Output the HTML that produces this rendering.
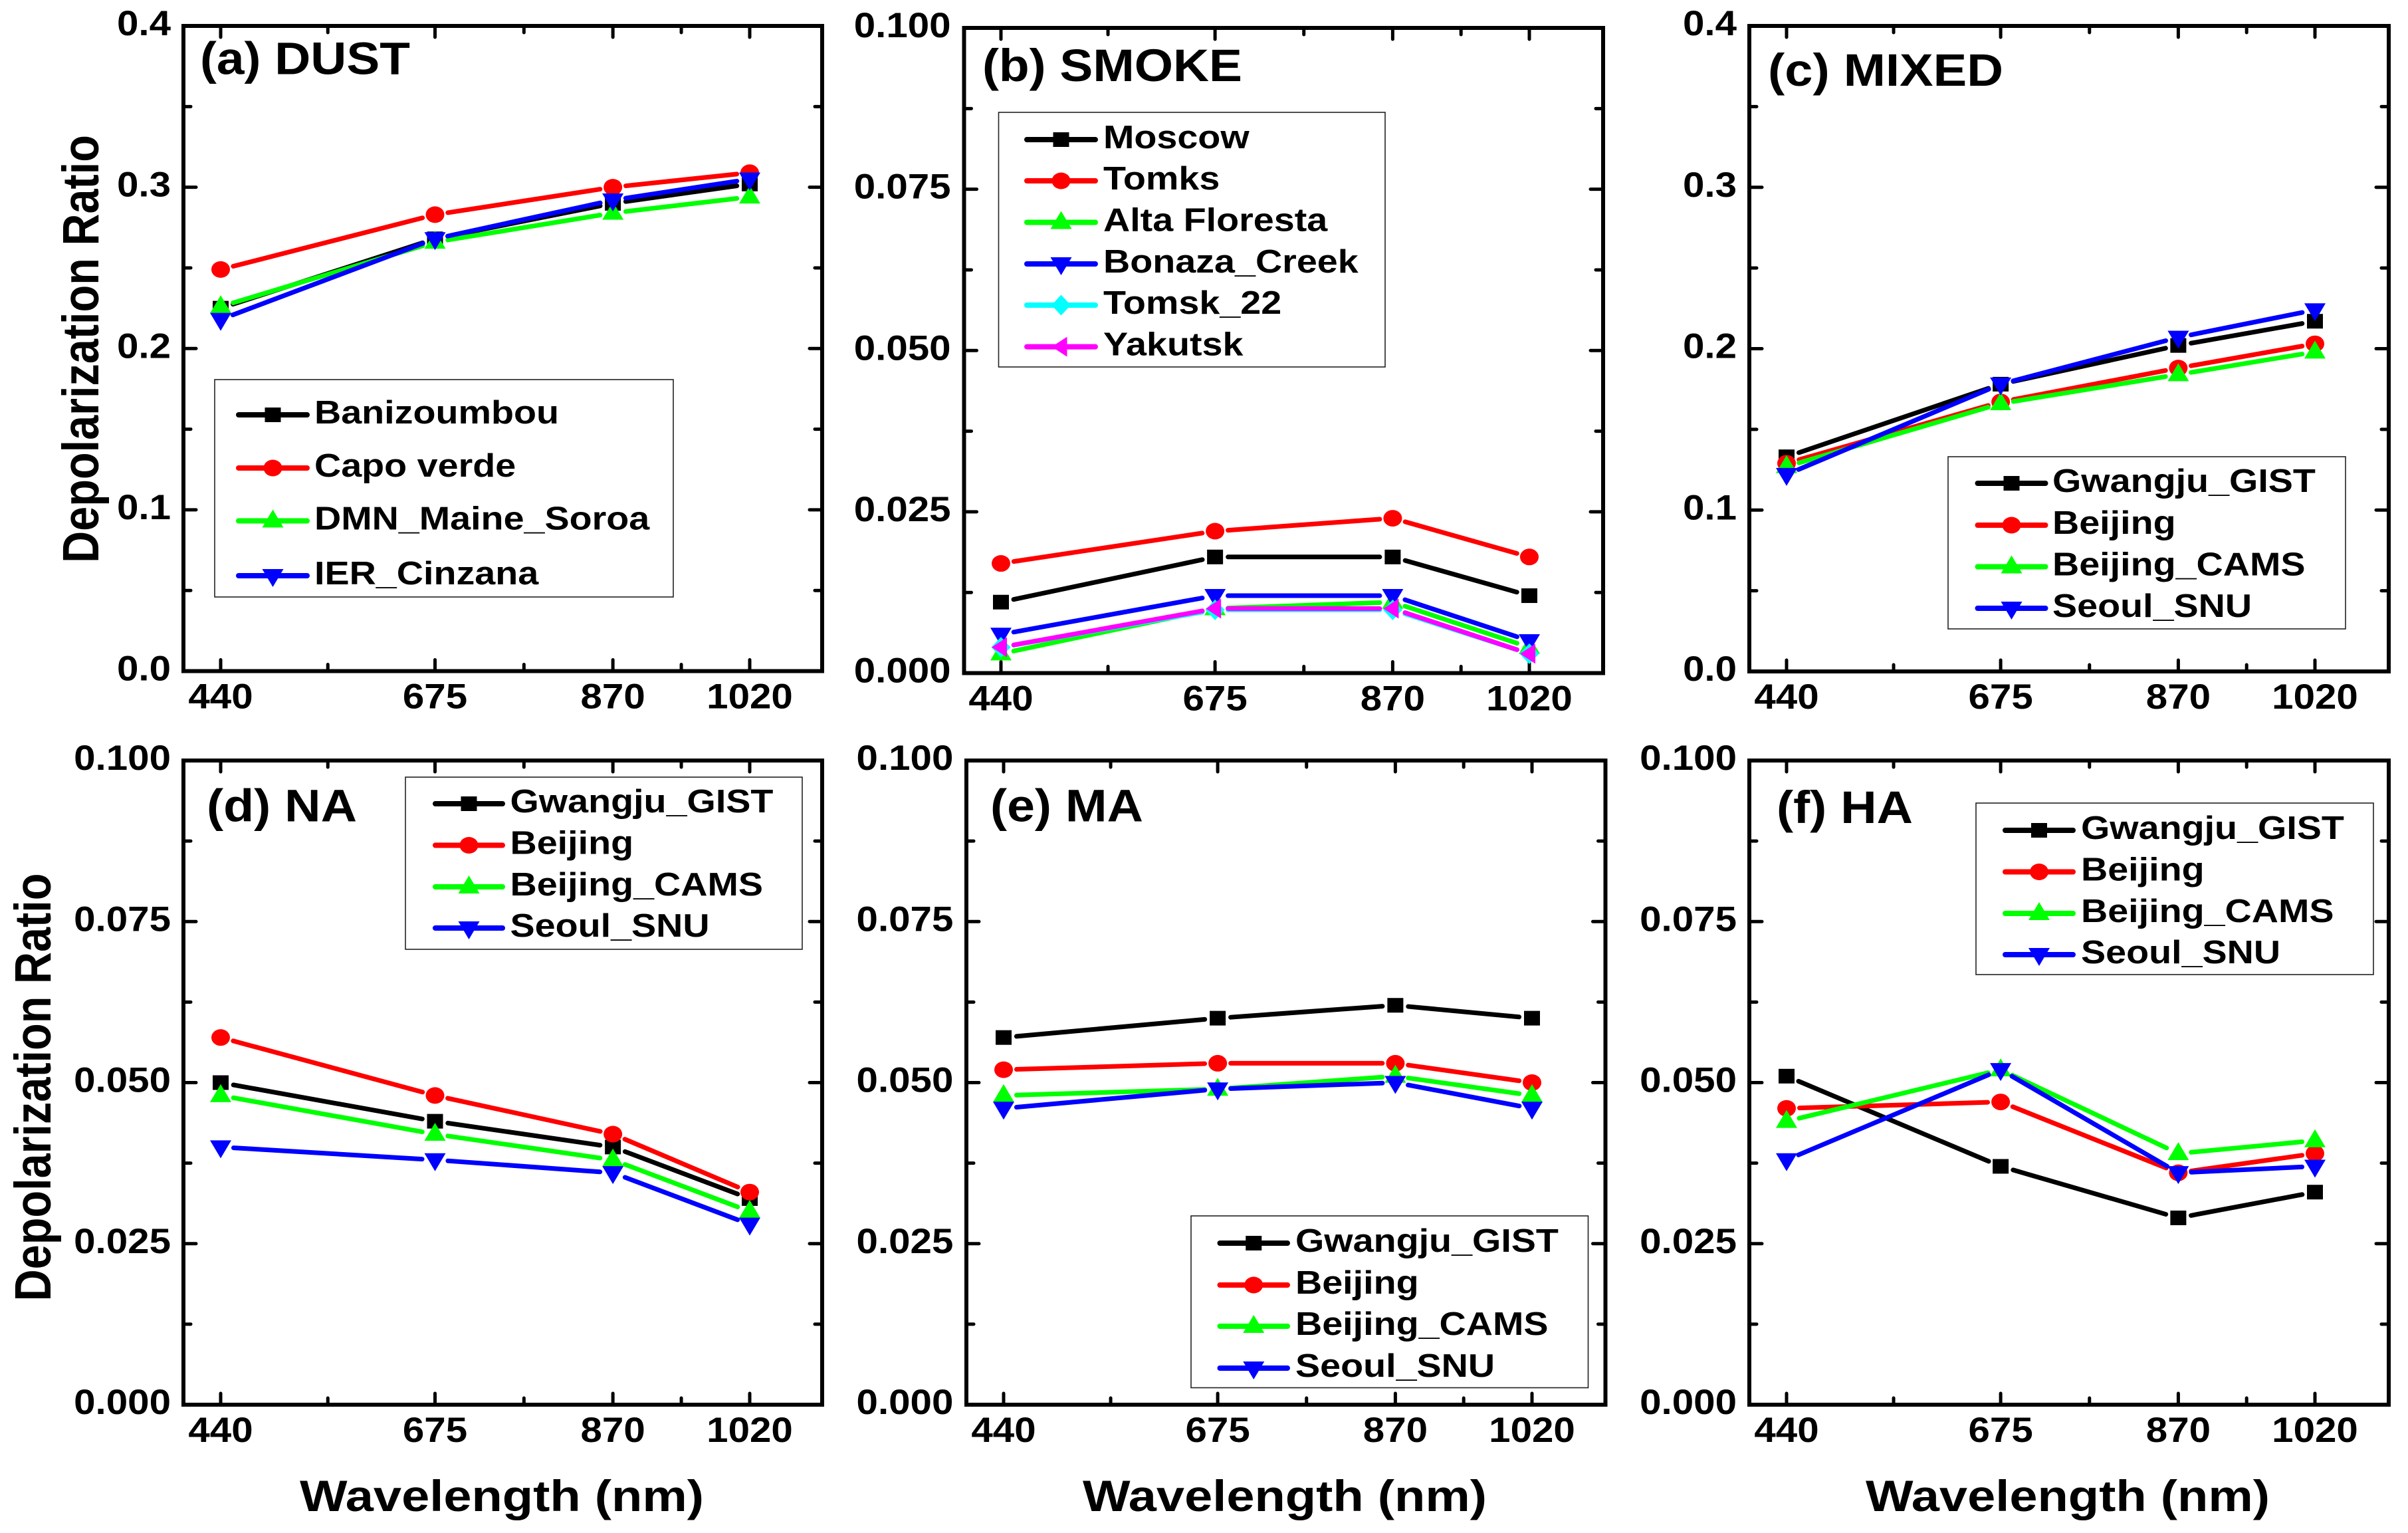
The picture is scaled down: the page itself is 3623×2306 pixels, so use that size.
<!DOCTYPE html>
<html lang="en">
<head>
<meta charset="utf-8">
<title>Depolarization Ratio by Wavelength</title>
<style>
html,body{margin:0;padding:0;background:#fff;}
svg{display:block;}
text{font-family:"Liberation Sans",sans-serif;font-weight:bold;fill:#000;}
</style>
</head>
<body>
<svg id="chart" xmlns="http://www.w3.org/2000/svg" width="3623" height="2306" viewBox="0 0 3623 2306"></svg>
<script>
const wavelengths = [440, 675, 870, 1020];
const coarseTickLabels = ['0.0', '0.1', '0.2', '0.3', '0.4'];
const fineTickLabels = ['0.000', '0.025', '0.050', '0.075', '0.100'];

const dustNames = ['Banizoumbou', 'Capo verde', 'DMN_Maine_Soroa', 'IER_Cinzana'];
const dustBanizoumbou = [0.225, 0.268, 0.290, 0.302];
const dustCapoVerde = [0.249, 0.283, 0.300, 0.309];
const dustMaineSoroa = [0.226, 0.266, 0.284, 0.294];
const dustCinzana = [0.218, 0.268, 0.292, 0.305];

const smokeNames = ['Moscow', 'Tomks', 'Alta Floresta', 'Bonaza_Creek', 'Tomsk_22', 'Yakutsk'];
const smokeMoscow = [0.011, 0.018, 0.018, 0.012];
const smokeTomks = [0.017, 0.022, 0.024, 0.018];
const smokeAlta = [0.003, 0.010, 0.011, 0.004];
const smokeBonaza = [0.006, 0.012, 0.012, 0.005];
const smokeTomsk22 = [0.004, 0.0098, 0.0098, 0.003];
const smokeYakutsk = [0.004, 0.010, 0.010, 0.003];

const siteNames = ['Gwangju_GIST', 'Beijing', 'Beijing_CAMS', 'Seoul_SNU'];

const mixedGist = [0.133, 0.178, 0.202, 0.217];
const mixedBeijing = [0.129, 0.167, 0.188, 0.203];
const mixedCams = [0.127, 0.166, 0.184, 0.198];
const mixedSeoul = [0.122, 0.178, 0.207, 0.224];

const naGist = [0.050, 0.044, 0.040, 0.032];
const naBeijing = [0.057, 0.048, 0.042, 0.033];
const naCams = [0.048, 0.042, 0.038, 0.030];
const naSeoul = [0.040, 0.038, 0.036, 0.028];

const maGist = [0.057, 0.060, 0.062, 0.060];
const maBeijing = [0.052, 0.053, 0.053, 0.050];
const maCams = [0.048, 0.049, 0.051, 0.048];
const maSeoul = [0.046, 0.049, 0.050, 0.046];

const haGist = [0.051, 0.037, 0.029, 0.033];
const haBeijing = [0.046, 0.047, 0.036, 0.039];
const haCams = [0.044, 0.052, 0.039, 0.041];
const haSeoul = [0.038, 0.052, 0.036, 0.037];

const seriesColors = ['#000000', '#ff0000', '#00ff00', '#0000ff', '#00ffff', '#ff00ff'];
const seriesMarkers = ['square', 'circle', 'up', 'down', 'diamond', 'left'];

const panels = [
  { key: 'dust', title: '(a) DUST', names: dustNames, series: [dustBanizoumbou, dustCapoVerde, dustMaineSoroa, dustCinzana],
    labels: coarseTickLabels, frame: [276, 1237, 39, 1009.5], tickX: [332, 1128], labelRight: 257, titlePos: [301, 111.5, 316],
    legendBox: [323, 1013, 571, 898], legendY: [624, 704, 783.5, 866], legendLine: [359, 462], legendText: 473, yTitleX: 148, yTitleY: 525, xTitle: null },
  { key: 'smoke', title: '(b) SMOKE', names: smokeNames, series: [smokeMoscow, smokeTomks, smokeAlta, smokeBonaza, smokeTomsk22, smokeYakutsk],
    labels: fineTickLabels, frame: [1450.5, 2412, 42, 1012.5], tickX: [1506, 2301], labelRight: 1430.6, titlePos: [1478, 122, 391],
    legendBox: [1502.5, 2084, 169, 552], legendY: [210, 272, 334.5, 397, 459, 521.6], legendLine: [1545, 1648], legendText: 1660, yTitleX: null, xTitle: null },
  { key: 'mixed', title: '(c) MIXED', names: siteNames, series: [mixedGist, mixedBeijing, mixedCams, mixedSeoul],
    labels: coarseTickLabels, frame: [2632, 3594, 39, 1010], tickX: [2688, 3483], labelRight: 2613, titlePos: [2660, 129, 354],
    legendBox: [2931, 3529, 687, 946], legendY: [727, 790, 852.5, 915], legendLine: [2975.5, 3077.5], legendText: 3088, yTitleX: null, xTitle: null },
  { key: 'na', title: '(d) NA', names: siteNames, series: [naGist, naBeijing, naCams, naSeoul],
    labels: fineTickLabels, frame: [276, 1237, 1144, 2113], tickX: [332, 1128], labelRight: 257, titlePos: [311, 1235.5, 226],
    legendBox: [610, 1207, 1169, 1428], legendY: [1209, 1271.5, 1334, 1396], legendLine: [655, 756], legendText: 767.5, yTitleX: 76, yTitleY: 1635.5, xTitle: [451, 608] },
  { key: 'ma', title: '(e) MA', names: siteNames, series: [maGist, maBeijing, maCams, maSeoul],
    labels: fineTickLabels, frame: [1454, 2415.5, 1144, 2113], tickX: [1510, 2305], labelRight: 1434.4, titlePos: [1490, 1235.5, 230],
    legendBox: [1792, 2389.5, 1829, 2087.5], legendY: [1870, 1933, 1995, 2058], legendLine: [1835.5, 1937], legendText: 1949, yTitleX: null, xTitle: [1629, 608] },
  { key: 'ha', title: '(f) HA', names: siteNames, series: [haGist, haBeijing, haCams, haSeoul],
    labels: fineTickLabels, frame: [2632, 3594, 1144, 2113], tickX: [2688, 3483], labelRight: 2613, titlePos: [2673, 1238, 205],
    legendBox: [2973, 3571, 1208, 1466], legendY: [1249, 1311.5, 1374, 1436], legendLine: [3017, 3119], legendText: 3131, yTitleX: null, xTitle: [2807, 608] }
];

const NS = 'http://www.w3.org/2000/svg';
const root = document.getElementById('chart');

function make(tag, parent, attrs) {
  const node = document.createElementNS(NS, tag);
  for (const k in attrs) node.setAttribute(k, attrs[k]);
  parent.appendChild(node);
  return node;
}

function addText(parent, str, x, y, size, scaleX, anchor) {
  const node = make('text', parent, {
    transform: 'translate(' + x + ',' + y + ') scale(' + scaleX + ',1)',
    'font-size': size,
    'text-anchor': anchor || 'start'
  });
  node.textContent = str;
  return node;
}

function addFittedText(parent, str, x, y, size, width) {
  const node = make('text', parent, {
    transform: 'translate(' + x + ',' + y + ')',
    'font-size': size,
    textLength: width,
    lengthAdjust: 'spacingAndGlyphs'
  });
  node.textContent = str;
  return node;
}

function addMarker(parent, shape, cx, cy, color) {
  let node;
  if (shape === 'square') {
    node = make('rect', parent, { x: cx - 12, y: cy - 11, width: 24, height: 22, fill: color });
  } else if (shape === 'circle') {
    node = make('ellipse', parent, { cx: cx, cy: cy, rx: 14, ry: 12.5, fill: color });
  } else {
    const shapes = {
      up: [[0, -17], [16, 10], [-16, 10]],
      down: [[0, 17], [16, -10], [-16, -10]],
      diamond: [[0, -15.5], [14.5, 0], [0, 15.5], [-14.5, 0]],
      left: [[-14, 0], [9, -15], [9, 15]]
    };
    const pts = shapes[shape].map(function (p) { return (cx + p[0]) + ',' + (cy + p[1]); }).join(' ');
    node = make('polygon', parent, { points: pts, fill: color });
  }
  return node;
}

function drawPanel(p) {
  const group = make('g', root, {});
  
  

  const left = p.frame[0], right = p.frame[1], top = p.frame[2], bottom = p.frame[3];
  const yMax = Number(p.labels[p.labels.length - 1]);
  const xFirst = wavelengths[0], xLast = wavelengths[wavelengths.length - 1];
  const xAxis = function (w) { return p.tickX[0] + (w - xFirst) / (xLast - xFirst) * (p.tickX[1] - p.tickX[0]); };
  const yAxis = function (v) { return bottom - v / yMax * (bottom - top); };

  const tickStyle = { stroke: '#000', 'stroke-width': 5, 'stroke-linecap': 'round' };
  function addTick(x1, y1, x2, y2, name) {
    const t = make('line', group, Object.assign({ x1: x1, y1: y1, x2: x2, y2: y2 }, tickStyle));
    
    
  }

  wavelengths.forEach(function (w, i) {
    const px = xAxis(w);
    addTick(px, bottom, px, bottom - 17, 'x-tick-' + w);
    addTick(px, top, px, top + 17, 'x-tick-top-' + w);
    const label = addText(group, String(w), px, bottom + 56, 53, 1.1, 'middle');
    
    
    if (i < wavelengths.length - 1) {
      const mid = xAxis((w + wavelengths[i + 1]) / 2);
      addTick(mid, bottom, mid, bottom - 10, 'x-minor-tick');
      addTick(mid, top, mid, top + 10, 'x-minor-tick-top');
    }
  });

  p.labels.forEach(function (lab, i) {
    const v = Number(lab);
    const py = yAxis(v);
    addTick(left, py, left + 19, py, 'y-tick-' + lab);
    addTick(right, py, right - 19, py, 'y-tick-right-' + lab);
    const label = addText(group, lab, p.labelRight, py + 14, 53, 1.1, 'end');
    
    
    if (i < p.labels.length - 1) {
      const midPy = yAxis((v + Number(p.labels[i + 1])) / 2);
      addTick(left, midPy, left + 11, midPy, 'y-minor-tick');
      addTick(right, midPy, right - 11, midPy, 'y-minor-tick-right');
    }
  });

  const frame = make('rect', group, { x: left, y: top, width: right - left, height: bottom - top, fill: 'none', stroke: '#000', 'stroke-width': 6 });
  
  

  p.series.forEach(function (values, s) {
    const color = seriesColors[s];
    const sg = make('g', group, {});
    
    
    values.forEach(function (v, i) {
      if (i === values.length - 1) return;
      const ax = xAxis(wavelengths[i]), ay = yAxis(v);
      const bx = xAxis(wavelengths[i + 1]), by = yAxis(values[i + 1]);
      const len = Math.hypot(bx - ax, by - ay);
      const ux = (bx - ax) / len, uy = (by - ay) / len;
      const seg = make('line', sg, {
        x1: ax + ux * 19.5, y1: ay + uy * 19.5, x2: bx - ux * 19.5, y2: by - uy * 19.5,
        stroke: color, 'stroke-width': 7, 'stroke-linecap': 'round'
      });
      
      
    });
    values.forEach(function (v, i) {
      const m = addMarker(sg, seriesMarkers[s], xAxis(wavelengths[i]), yAxis(v), color);
      
      
    });
  });

  const title = addFittedText(group, p.title, p.titlePos[0], p.titlePos[1], 69, p.titlePos[2]);
  
  

  const legend = make('g', group, {});
  
  
  const box = make('rect', legend, {
    x: p.legendBox[0], y: p.legendBox[2], width: p.legendBox[1] - p.legendBox[0], height: p.legendBox[3] - p.legendBox[2],
    fill: '#fff', stroke: '#222', 'stroke-width': 1.6
  });
  
  
  p.names.forEach(function (name, s) {
    const ly = p.legendY[s];
    const entry = make('g', legend, {});
    
    
    const ln = make('line', entry, {
      x1: p.legendLine[0], y1: ly, x2: p.legendLine[1], y2: ly,
      stroke: seriesColors[s], 'stroke-width': 8, 'stroke-linecap': 'round'
    });
    
    
    const mk = addMarker(entry, seriesMarkers[s], (p.legendLine[0] + p.legendLine[1]) / 2, ly, seriesColors[s]);
    
    
    const txt = addText(entry, name, p.legendText, ly + 13, 49.5, 1.125, 'start');
    
    
  });

  if (p.yTitleX !== null) {
    const yt = make('text', group, {
      transform: 'translate(' + p.yTitleX + ',' + p.yTitleY + ') rotate(-90) scale(0.865,1)',
      'font-size': 77, 'text-anchor': 'middle'
    });
    yt.textContent = 'Depolarization Ratio';
    
    
  }

  if (p.xTitle) {
    const xt = addFittedText(group, 'Wavelength (nm)', p.xTitle[0], 2273, 66, p.xTitle[1]);
    
    
  }
}

panels.forEach(drawPanel);
</script>
</body>
</html>
